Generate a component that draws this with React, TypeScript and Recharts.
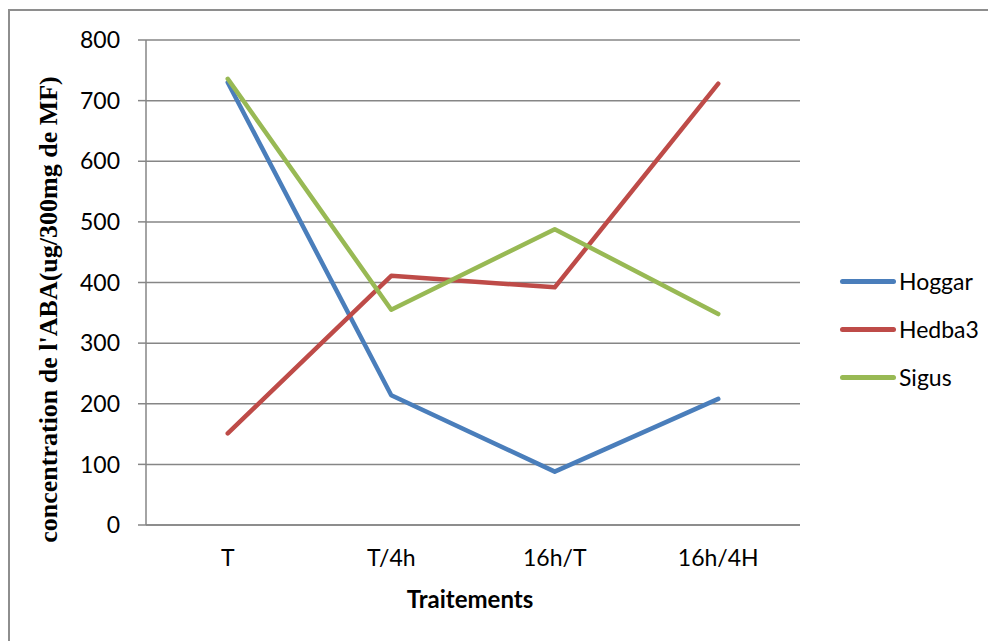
import React from 'react';
import { LineChart, Line, XAxis, YAxis, CartesianGrid, Legend, Label } from 'recharts';

const categories = ['T', 'T/4h', '16h/T', '16h/4H'];
const seriesNames = ['Hoggar', 'Hedba3', 'Sigus'];
const hoggar = [730, 214, 88, 208];
const hedba3 = [151, 411, 392, 728];
const sigus = [736, 355, 488, 348];
const yTicks = [0, 100, 200, 300, 400, 500, 600, 700, 800];

const data = categories.map((c, i) => ({
  name: c,
  Hoggar: hoggar[i],
  Hedba3: hedba3[i],
  Sigus: sigus[i],
}));

const FONT = 'Lato, "Open Sans", sans-serif';
const GRID = '#868686';

const YTitle = ({ viewBox }: any) => {
  const cx = viewBox.x + 32;
  const cy = viewBox.y + viewBox.height / 2 + 27;
  return (
    <text
      x={cx}
      y={cy}
      transform={`rotate(-90 ${cx} ${cy})`}
      textAnchor="middle"
      dominantBaseline="central"
      fontFamily='"Liberation Serif", "Times New Roman", serif'
      fontWeight="bold"
      fontSize={26}
      fill="#000"
    >
      concentration de l'ABA(ug/300mg de MF)
    </text>
  );
};

const XTitle = ({ viewBox }: any) => (
  <text
    x={viewBox.x + viewBox.width / 2 - 3}
    y={viewBox.y + 83}
    textAnchor="middle"
    fontFamily={FONT}
    fontWeight="bold"
    fontSize={24}
    fill="#000"
  >
    Traitements
  </text>
);

const LegendBox = ({ payload }: any) => (
  <div>
    {(payload || []).map((p: any) => (
      <div key={p.value} style={{ height: 48, display: 'flex', alignItems: 'center' }}>
        <div style={{ width: 56, height: 5, borderRadius: 3, background: p.color, marginRight: 3 }} />
        <span style={{ fontFamily: FONT, fontSize: 23, color: '#000' }}>{p.value}</span>
      </div>
    ))}
  </div>
);

export default function App() {
  return (
    <div style={{ position: 'relative', width: 988, height: 633, overflow: 'hidden', background: '#fff' }}>
      <div
        style={{
          position: 'absolute',
          left: 0,
          top: 1,
          width: 1100,
          height: 800,
          border: '2px solid #8e8e8e',
        }}
      />
      <LineChart
        width={988}
        height={633}
        data={data}
        margin={{ top: 32, right: 46, bottom: 26, left: 8 }}
      >
        <CartesianGrid horizontal vertical={false} stroke={GRID} strokeWidth={1.5} />
        <XAxis
          dataKey="name"
          padding={{ left: 81.75, right: 81.75 }}
          height={90}
          tickLine={false}
          tickSize={0}
          tickMargin={25}
          axisLine={{ stroke: GRID, strokeWidth: 1.5 }}
          tick={{ fill: '#000', fontSize: 23, fontFamily: FONT }}
        >
          <Label content={<XTitle />} />
        </XAxis>
        <YAxis
          width={130}
          domain={[0, 800]}
          ticks={yTicks}
          interval={0}
          tickSize={8}
          tickMargin={18}
          tickLine={{ stroke: GRID, strokeWidth: 1.5 }}
          axisLine={{ stroke: GRID, strokeWidth: 1.5 }}
          tick={{ fill: '#000', fontSize: 23, fontFamily: FONT }}
        >
          <Label content={<YTitle />} />
        </YAxis>
        <Legend
          layout="vertical"
          align="right"
          verticalAlign="middle"
          itemSorter={(item: any) => seriesNames.indexOf(item.value)}
          content={<LegendBox />}
          wrapperStyle={{ position: 'absolute', left: 832, top: 249, width: 150 }}
        />
        <Line dataKey="Hoggar" stroke="#4a7ebb" strokeWidth={4.5} dot={false} strokeLinecap="round" strokeLinejoin="round" isAnimationActive={false} />
        <Line dataKey="Hedba3" stroke="#be4b48" strokeWidth={4.5} dot={false} strokeLinecap="round" strokeLinejoin="round" isAnimationActive={false} />
        <Line dataKey="Sigus" stroke="#98b954" strokeWidth={4.5} dot={false} strokeLinecap="round" strokeLinejoin="round" isAnimationActive={false} />
      </LineChart>
    </div>
  );
}
